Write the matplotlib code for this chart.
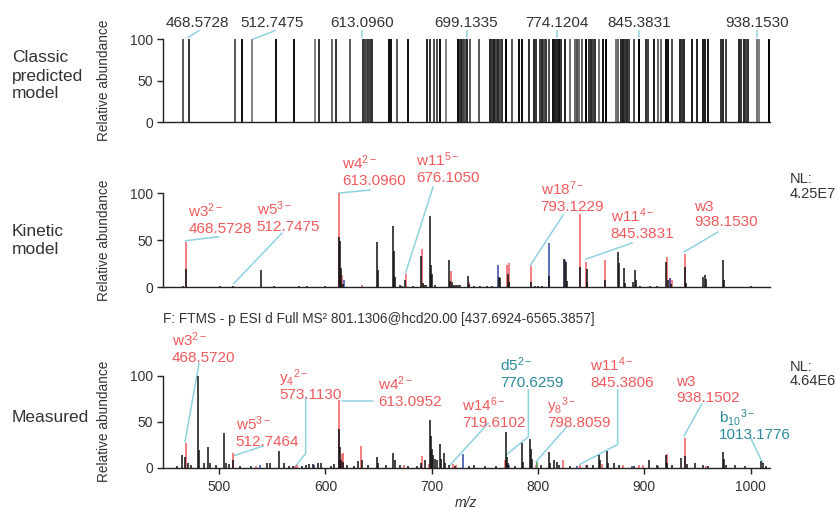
import matplotlib.pyplot as plt

plt.rcParams['font.family'] = ['Liberation Sans', 'DejaVu Sans']
plt.rcParams['mathtext.fontset'] = 'custom'
plt.rcParams['mathtext.rm'] = 'Liberation Sans'
plt.rcParams['mathtext.it'] = 'Liberation Sans:italic'
plt.rcParams['mathtext.bf'] = 'Liberation Sans:bold'

# ---- classic predicted model (all bars at 100 %) ----
top_mz = [464.6, 469.2, 506.9, 513.2, 521.1, 540.6, 555.5, 573.3, 576.6, 587.3, 590.6, 601.8,
          613.0, 614.2, 615.4, 616.6, 617.8, 619.0, 620.3,
          634.3, 635.9, 641.1, 649.9, 665.6, 667.7, 671.4, 673.7, 676.6, 681.3,
          691.1, 692.6, 694.1, 695.6, 697.2, 698.5, 701.0, 708.9,
          717.5, 719.1, 720.8, 722.4, 724.1, 725.7, 727.4, 730.7, 735.6, 741.6, 743.9, 749.9, 754.3, 755.9,
          759.0, 760.6, 762.2, 764.1, 766.1, 769.6, 771.3, 772.9, 774.8, 775.9, 779.5, 783.6, 787.8, 789.4,
          791.0, 793.3, 797.1, 799.3, 800.9, 802.6, 804.2, 807.3, 810.8, 813.5, 821.3, 823.4, 825.7, 827.3,
          829.0, 830.6, 832.3, 836.1, 840.5, 846.0, 848.1, 852.6, 856.1, 858.4, 862.5, 864.4, 868.2, 874.0,
          876.1, 877.8, 884.4, 888.2, 893.0, 895.1, 897.3, 908.6, 910.2, 912.4, 922.9, 925.1, 927.0, 928.9,
          930.8, 938.2, 939.9, 947.6]
top_grey = [0.35, 0.2, 0.35, 0.05, 0.5, 0.05, 0.05, 0.5, 0.2, 0.4, 0.2, 0.35,
            0.2, 0.25, 0.3, 0.2, 0.25, 0.2, 0.2,
            0.05, 0.05, 0.35, 0.05, 0.15, 0.2, 0.3, 0.3, 0.05, 0.5,
            0.05, 0.2, 0.1, 0.25, 0.3, 0.15, 0.35, 0.35,
            0.15, 0.2, 0.1, 0.25, 0.15, 0.3, 0.2, 0.0, 0.35, 0.05, 0.05, 0.2, 0.15, 0.2,
            0.25, 0.15, 0.3, 0.2, 0.3, 0.05, 0.1, 0.15, 0.05, 0.2, 0.15, 0.45, 0.4, 0.3,
            0.4, 0.35, 0.0, 0.2, 0.15, 0.25, 0.2, 0.45, 0.05, 0.0, 0.45, 0.4, 0.15, 0.1,
            0.2, 0.15, 0.25, 0.3, 0.0, 0.2, 0.25, 0.1, 0.4, 0.4, 0.05, 0.05, 0.3, 0.15,
            0.2, 0.15, 0.1, 0.15, 0.1, 0.1, 0.1, 0.2, 0.15, 0.25, 0.15, 0.2, 0.15, 0.25,
            0.2, 0.45, 0.5, 0.0]
top_labels = ['468.5728', '512.7475', '613.0960', '699.1335', '774.1204', '845.3831', '938.1530']

# ---- kinetic model ----
kin_black_mz = [466.0, 468.6, 500.5, 513.5, 539.5, 552, 575, 583, 600, 612.6, 613.6, 614.5, 617.0,
                648.3, 649.2, 663.9, 664.8, 665.8, 670.5, 672.5, 675.0, 682, 689.6, 691.5, 693, 695,
                698.4, 699.3, 700.2, 703, 716.6, 717.6, 719.5, 721, 723, 725, 727, 733.9, 735, 740,
                745, 752, 757, 762.9, 764, 771.8, 773.1, 793.4, 797, 800, 804, 810.3, 824.1, 825.9,
                826.8, 839.5, 845.6, 846.5, 863.3, 874.9, 875.8, 881.2, 882, 889, 891.2, 892, 896,
                905, 912, 920.5, 921.8, 925, 938.5, 939.5, 955.3, 956.8, 957.6, 974, 975, 1000]
kin_black_int = [1.0, 19, 1.5, 1.5, 18, 1, 1, 1, 1, 53, 49, 20, 3,
                 47.7, 18, 65.5, 38.8, 11, 2, 1.5, 8, 1.5, 33.4, 4, 2, 2,
                 76, 23.5, 14, 2, 28.8, 6, 5, 2, 2, 2, 2, 11.7, 3, 1,
                 1, 1, 1, 10.7, 10, 14, 5, 5, 1.5, 1.5, 1, 12, 29.5, 27,
                 6, 21, 19, 5, 8, 37, 26, 20, 4, 5, 18, 8, 1,
                 1, 1, 27, 8, 3, 21, 4, 10.7, 13, 9, 28.8, 8, 1]
kin_red_mz = [468.57, 612.8, 614.6, 616.0, 634, 676.1, 690.5, 718.4, 734.8, 770.5, 773.1, 793.12,
              839.8, 845.38, 863.0, 921.3, 924, 926, 938.15]
kin_red_int = [47.7, 100, 12, 13, 2, 14, 40.5, 16.7, 5, 23.5, 25.3, 22.4,
               78, 27, 28.8, 31.7, 10, 8, 35.2]
kin_blue_mz = [617.6, 719.6, 762.1, 810.0, 825.3, 924.5]
kin_blue_int = [8, 1.5, 23.5, 47.3, 29, 10]

# ---- measured ----
mea_black_mz = [460, 465.2, 468.3, 470.5, 474, 480.0, 481.4, 485.6, 490.0, 491.5, 497, 505.0, 506.2,
                509.5, 513, 520, 530, 545, 548, 556.4, 561, 566, 570, 578, 582, 585, 588, 593, 596,
                605, 608, 612.8, 613.8, 615, 617, 620, 627, 631, 634.2, 640, 648.6, 649.5, 657, 664,
                665, 670, 678, 686, 690, 693.5, 698.4, 699.4, 700.4, 701.6, 703, 705, 707.5, 708.5,
                711.5, 712.5, 716, 722, 735, 740, 750, 760, 769.6, 770.6, 772, 778, 785, 786, 792.2,
                793.2, 794.2, 803, 810.3, 811.5, 815, 818, 820, 830, 846, 852, 857.3, 858.5, 864.9,
                866, 871.5, 876, 890, 904, 912, 920, 921.5, 926, 934.5, 938.3, 940, 948, 955, 960,
                974, 975, 977, 985, 995, 1009.4, 1011.5, 1014]
mea_black_int = [2, 13.8, 12, 5, 3, 100, 19, 5, 22.2, 5, 3, 38, 5,
                 4, 8, 2, 1.5, 5, 5, 18, 5, 2, 1.5, 2, 2.5, 4, 4, 5, 5,
                 2, 4, 42, 23, 8, 6, 3, 2, 7, 8, 3, 12, 5, 3, 16,
                 8, 3, 2, 2, 5, 8, 52, 35, 20, 14, 10, 8, 26, 10,
                 16, 5, 3, 2, 2, 3, 1.5, 1.5, 38.5, 12, 5, 2, 26.5, 6, 31,
                 20, 10, 3, 17.4, 5, 8, 6, 3, 2, 3, 3, 13.5, 8, 18.5,
                 5, 5, 3, 2, 8, 3, 14, 5, 3, 11, 13, 4, 5, 3, 2,
                 17.4, 10, 3, 3, 2, 7.6, 5, 2]
mea_red_mz = [468.57, 512.75, 535, 571.5, 573.1, 613.1, 615.5, 616.5, 633.5, 674, 690.6, 697, 719.6,
              723, 768.6, 798.5, 823.5, 839, 845.4, 860, 880, 895, 899, 921, 938.15, 958]
mea_red_int = [27.2, 16, 2, 2, 2.5, 73.6, 15, 16, 23.6, 3, 13, 4, 4,
               2.5, 8, 3, 8, 3, 3, 4, 3, 3, 3, 15, 32, 2]
mea_blue_mz = [538.5, 589.6, 690, 729.1, 773, 837, 888, 913]
mea_blue_int = [3, 3, 2, 15, 3, 2, 2, 2]
mea_green_mz = [798.8]
mea_green_int = [6]

TXT = '#333333'
RED = '#f05a5c'
TEAL = '#2b8a9c'
BLUE = '#3246a6'
GREEN = '#3c9a4c'
LEAD = '#8fd2df'

fig = plt.figure(figsize=(8.36, 5.09), dpi=100)
ax_top = fig.add_axes([0.195, 0.7603, 0.7255, 0.1621])
ax_kin = fig.add_axes([0.195, 0.4361, 0.7255, 0.1841])
ax_mea = fig.add_axes([0.195, 0.0811, 0.7255, 0.1807])


def style(ax, xlim, show_x):
    ax.set_xlim(*xlim)
    ax.set_ylim(0, 100)
    ax.spines['top'].set_visible(False)
    ax.spines['right'].set_visible(False)
    ax.spines['left'].set_bounds(0, 100)
    for s in ['left', 'bottom']:
        ax.spines[s].set_linewidth(1.0)
        ax.spines[s].set_color('#222222')
    ax.set_yticks([0, 50, 100])
    ax.tick_params(axis='y', length=4, width=1.0, labelsize=10, colors='#222222',
                   labelcolor=TXT, pad=3)
    if show_x:
        ax.set_xticks([500, 600, 700, 800, 900, 1000])
        ax.tick_params(axis='x', length=4, width=1.0, labelsize=10, colors='#222222',
                       labelcolor=TXT, pad=5)
    else:
        ax.tick_params(axis='x', bottom=False, labelbottom=False)
    ax.set_ylabel('Relative abundance', fontsize=9.8, color=TXT)
    ax.yaxis.set_label_coords(-0.085, 0.5)


style(ax_top, (447.7, 948.3), False)
style(ax_kin, (447.3, 1017.7), False)
style(ax_mea, (447.3, 1017.7), True)

# top panel bars
ax_top.vlines(top_mz, 0, 100, colors=[str(g) for g in top_grey], linewidth=1.4)
top_pos = [476.2, 538.0, 612.0, 698.2, 773.0, 840.8, 937.6]
top_leads = [([468.6, 477.4], [102.7, 110.7]), ([522.2, 540.1], [100.6, 110.7]),
             ([612.0, 612.0], [102.7, 110.7]), ([698.2, 698.2], [102.7, 110.7]),
             ([773.0, 773.0], [102.7, 110.7]), ([840.8, 840.8], [102.7, 110.7]),
             ([937.6, 937.6], [102.7, 110.7])]
for lab, x, (lx, ly) in zip(top_labels, top_pos, top_leads):
    ax_top.plot(lx, ly, color=LEAD, lw=1.1, clip_on=False)
    ax_top.text(x, 120.5, lab, ha='center', va='center', fontsize=11, color=TXT, clip_on=False)

# kinetic panel peaks
ax_kin.vlines(kin_red_mz, 0, kin_red_int, colors=RED, linewidth=1.1)
ax_kin.vlines(kin_blue_mz, 0, kin_blue_int, colors=BLUE, linewidth=1.1)
ax_kin.vlines(kin_black_mz, 0, kin_black_int, colors='#111111', linewidth=1.1)

# measured panel peaks
ax_mea.vlines(mea_red_mz, 0, mea_red_int, colors=RED, linewidth=1.1)
ax_mea.vlines(mea_blue_mz, 0, mea_blue_int, colors=BLUE, linewidth=1.1)
ax_mea.vlines(mea_green_mz, 0, mea_green_int, colors=GREEN, linewidth=1.1)
ax_mea.vlines(mea_black_mz, 0, mea_black_int, colors='#111111', linewidth=1.1)


def label(ax, name, number, x, y, color, lx, ly):
    ax.plot(lx, ly, color=LEAD, lw=1.1, clip_on=False, zorder=1)
    ax.text(x, y, number, ha='left', va='baseline', fontsize=11, color=color, clip_on=False)
    ax.annotate(name, xy=(x, y), xytext=(0, 11.5), textcoords='offset points',
                ha='left', va='baseline', fontsize=11, color=color, annotation_clip=False)


kin_labels = [
    ('w3$^{2-}$', '468.5728', 471.1, 58.0, [468.6, 499.7], [49.4, 53.7]),
    ('w5$^{3-}$', '512.7475', 535.5, 59.3, [514.1, 559.0], [4.0, 57.3]),
    ('w4$^{2-}$', '613.0960', 615.4, 109.1, [612.8, 642.0], [100.3, 103.5]),
    ('w11$^{5-}$', '676.1050', 685.3, 111.9, [675.4, 701.2], [15.0, 106.7]),
    ('w18$^{7-}$', '793.1229', 802.5, 81.6, [792.9, 823.5], [23.5, 76.8]),
    ('w11$^{4-}$', '845.3831', 868.3, 52.1, [845.4, 888.4], [29.9, 47.0]),
    ('w3', '938.1530', 947.0, 64.6, [937.3, 969.2], [37.4, 58.7]),
]
for name, num, x, y, lx, ly in kin_labels:
    label(ax_kin, name, num, x, y, RED, lx, ly)

mea_labels = [
    ('w3$^{2-}$', '468.5720', 455.5, 114.7, RED, [468.0, 481.2], [28.3, 113.8]),
    ('w5$^{3-}$', '512.7464', 515.7, 24.1, RED, [512.9, 541.7], [12.7, 23.6]),
    ('y$_{4}{}^{2-}$', '573.1130', 556.4, 75.2, RED, [572.1, 581.5, 581.5], [1.8, 15.7, 76.8]),
    ('w4$^{2-}$', '613.0952', 649.8, 67.6, RED, [615.9, 645.1], [72.8, 72.8]),
    ('w14$^{6-}$', '719.6102', 728.8, 44.0, RED, [717.2, 753.2], [2.9, 48.3]),
    ('d5$^{2-}$', '770.6259', 764.2, 87.5, TEAL, [769.9, 790.9, 790.9], [13.8, 33.7, 84.5]),
    ('y$_{8}{}^{3-}$', '798.8059', 808.2, 44.0, RED, [798.1, 827.0], [6.5, 44.6]),
    ('w11$^{4-}$', '845.3806', 848.9, 87.5, RED, [839.5, 874.9, 874.9], [3.7, 25.4, 84.5]),
    ('w3', '938.1502', 929.5, 71.2, RED, [937.3, 953.9], [34.5, 69.2]),
    ('b$_{10}{}^{3-}$', '1013.1776', 970.5, 31.4, TEAL, [1011.8, 1000.0], [4.0, 32.0]),
]
for name, num, x, y, c, lx, ly in mea_labels:
    label(ax_mea, name, num, x, y, c, lx, ly)

# NL values
for ax, nl, y in [(ax_kin, '4.25E7', 99.3), (ax_mea, '4.64E6', 94.2)]:
    ax.text(1036.3, y, nl, ha='left', va='center', fontsize=10.5, color=TXT, clip_on=False)
    ax.text(1036.3, y + 15.5, 'NL:', ha='left', va='center', fontsize=10.5, color=TXT, clip_on=False)

ax_mea.set_xlabel('m/z', fontsize=10, style='italic', color=TXT, labelpad=1)

fig.text(163 / 836, 1 - 319 / 509, 'F: FTMS - p ESI d Full MS² 801.1306@hcd20.00 [437.6924-6565.3857]',
         ha='left', va='center', fontsize=9.8, color=TXT)

fig.text(12 / 836, 1 - 76 / 509, 'Classic\npredicted\nmodel', ha='left', va='center',
         fontsize=12.5, color=TXT, linespacing=1.25)
fig.text(12 / 836, 1 - 241 / 509, 'Kinetic\nmodel', ha='left', va='center',
         fontsize=12.5, color=TXT, linespacing=1.25)
fig.text(12 / 836, 1 - 418 / 509, 'Measured', ha='left', va='center',
         fontsize=12.5, color=TXT)

fig.savefig('out.png', dpi=100)
